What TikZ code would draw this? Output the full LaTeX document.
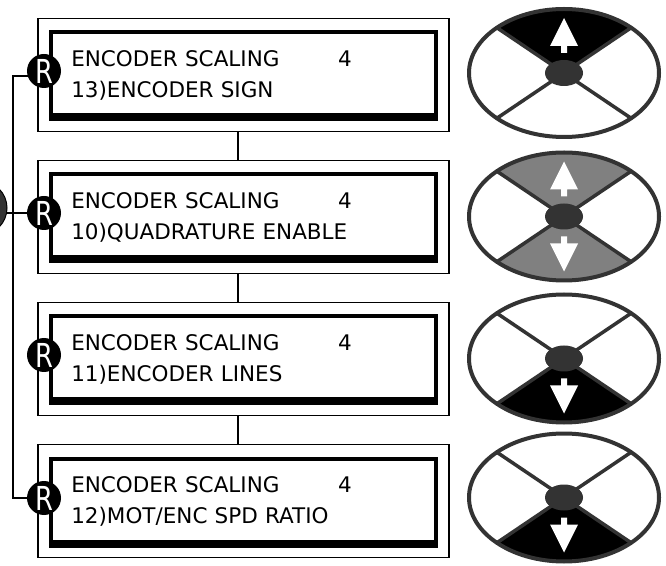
\documentclass[tikz,border=0pt]{standalone}
\usepackage{fontspec}
\setmainfont{DejaVu Sans}
\usetikzlibrary{shapes.geometric,calc}
\definecolor{keydark}{RGB}{51,51,51}
\definecolor{keygray}{RGB}{128,128,128}
\tikzset{
  panel/.style={draw, line width=1.2pt, minimum width=411pt, minimum height=113.5pt, inner sep=0pt, outer sep=0pt},
  lcd/.style={draw, line width=4pt, minimum width=384.5pt, minimum height=85pt, text width=344.5pt, inner xsep=20pt, inner ysep=0pt, outer sep=0pt, align=left, font=\fontsize{21.5}{31}\selectfont},
  rmark/.style={circle, fill=black, text=white, minimum size=34pt, inner sep=0pt, outer sep=0pt, font=\fontsize{33}{33}\selectfont},
  bigmark/.style={circle, fill=keydark, draw=black, line width=1pt, minimum size=54pt, inner sep=0pt, outer sep=0pt},
  keypad/.style={ellipse, draw=keydark, line width=4pt, minimum width=190pt, minimum height=128pt, inner sep=0pt, outer sep=0pt},
  hub/.style={ellipse, fill=keydark, minimum width=38pt, minimum height=26pt, inner sep=0pt},
  spoke/.style={draw=keydark, line width=3.5pt},
  link/.style={line width=1.2pt},
  uparrow/.pic={\fill[white] (0,55) -- (14,27) -- (3,27) -- (3,20) -- (-3,20) -- (-3,27) -- (-14,27) -- cycle;},
  downarrow/.pic={\fill[white] (0,-55) -- (14,-27) -- (3,-27) -- (3,-20) -- (-3,-20) -- (-3,-27) -- (-14,-27) -- cycle;}
}
\newcommand{\lcdhead}{\makebox[267pt][l]{ENCODER SCALING}4}
\begin{document}
\begin{tikzpicture}[x=1pt,y=1pt]
\useasboundingbox (0,0) rectangle (666,565);
\fill[white] (0,0) rectangle (666,565);
\coordinate (lnk) at (238,0);
\coordinate (bus) at (13,0);
\node[panel] (p1) at (243.5,490) {};
\node[panel] (p2) at (243.5,348) {};
\node[panel] (p3) at (243.5,206) {};
\node[panel] (p4) at (243.5,64) {};
\node[lcd] (lcd1) at (p1) {\lcdhead\\13)ENCODER SIGN};
\node[lcd] (lcd2) at (p2) {\lcdhead\\10)QUADRATURE ENABLE};
\node[lcd] (lcd3) at (p3) {\lcdhead\\11)ENCODER LINES};
\node[lcd] (lcd4) at (p4) {\lcdhead\\12)MOT/ENC SPD RATIO};
\fill ($(lcd1.south west)+(-2,4)$) rectangle ($(lcd1.south east)+(2,-4)$);
\fill ($(lcd2.south west)+(-2,4)$) rectangle ($(lcd2.south east)+(2,-4)$);
\fill ($(lcd3.south west)+(-2,4)$) rectangle ($(lcd3.south east)+(2,-4)$);
\fill ($(lcd4.south west)+(-2,4)$) rectangle ($(lcd4.south east)+(2,-4)$);
\draw[link] (p1.south -| lnk) -- (p2.north -| lnk);
\draw[link] (p2.south -| lnk) -- (p3.north -| lnk);
\draw[link] (p3.south -| lnk) -- (p4.north -| lnk);
\node[bigmark] (r0) at (-20,357) {};
\node[rmark] (r1) at (44,494) {\scalebox{0.78}[1]{R}};
\node[rmark] (r2) at (44,352) {\scalebox{0.78}[1]{R}};
\node[rmark] (r3) at (44,210) {\scalebox{0.78}[1]{R}};
\node[rmark] (r4) at (44,67) {\scalebox{0.78}[1]{R}};
\draw[link] (r1.197) -- (r1.197 -| bus) -- (r4.west -| bus) -- (r4.west);
\draw[link] (r0.east |- r2.west) -- (r2.west);
\coordinate (c1) at (564,492);
\coordinate (c2) at (564,348.5);
\coordinate (c3) at (564,206.5);
\coordinate (c4) at (564,67.5);
\fill[black] (c1) -- ++(45:95 and 64) arc[start angle=45, end angle=135, x radius=95, y radius=64] -- cycle;
\fill[keygray] (c2) -- ++(45:95 and 64) arc[start angle=45, end angle=135, x radius=95, y radius=64] -- cycle;
\fill[keygray] (c2) -- ++(225:95 and 64) arc[start angle=225, end angle=315, x radius=95, y radius=64] -- cycle;
\fill[black] (c3) -- ++(225:95 and 64) arc[start angle=225, end angle=315, x radius=95, y radius=64] -- cycle;
\fill[black] (c4) -- ++(225:95 and 64) arc[start angle=225, end angle=315, x radius=95, y radius=64] -- cycle;
\node[keypad] (key1) at (c1) {};
\node[keypad] (key2) at (c2) {};
\node[keypad] (key3) at (c3) {};
\node[keypad] (key4) at (c4) {};
\draw[spoke] (key1.34) -- (key1.214);
\draw[spoke] (key1.146) -- (key1.326);
\draw[spoke] (key2.34) -- (key2.214);
\draw[spoke] (key2.146) -- (key2.326);
\draw[spoke] (key3.34) -- (key3.214);
\draw[spoke] (key3.146) -- (key3.326);
\draw[spoke] (key4.34) -- (key4.214);
\draw[spoke] (key4.146) -- (key4.326);
\node[hub] (hub1) at (c1) {};
\node[hub] (hub2) at (c2) {};
\node[hub] (hub3) at (c3) {};
\node[hub] (hub4) at (c4) {};
\pic at (c1) {uparrow};
\pic at (c2) {uparrow};
\pic at (c2) {downarrow};
\pic at (c3) {downarrow};
\pic at (c4) {downarrow};
\end{tikzpicture}
\end{document}
